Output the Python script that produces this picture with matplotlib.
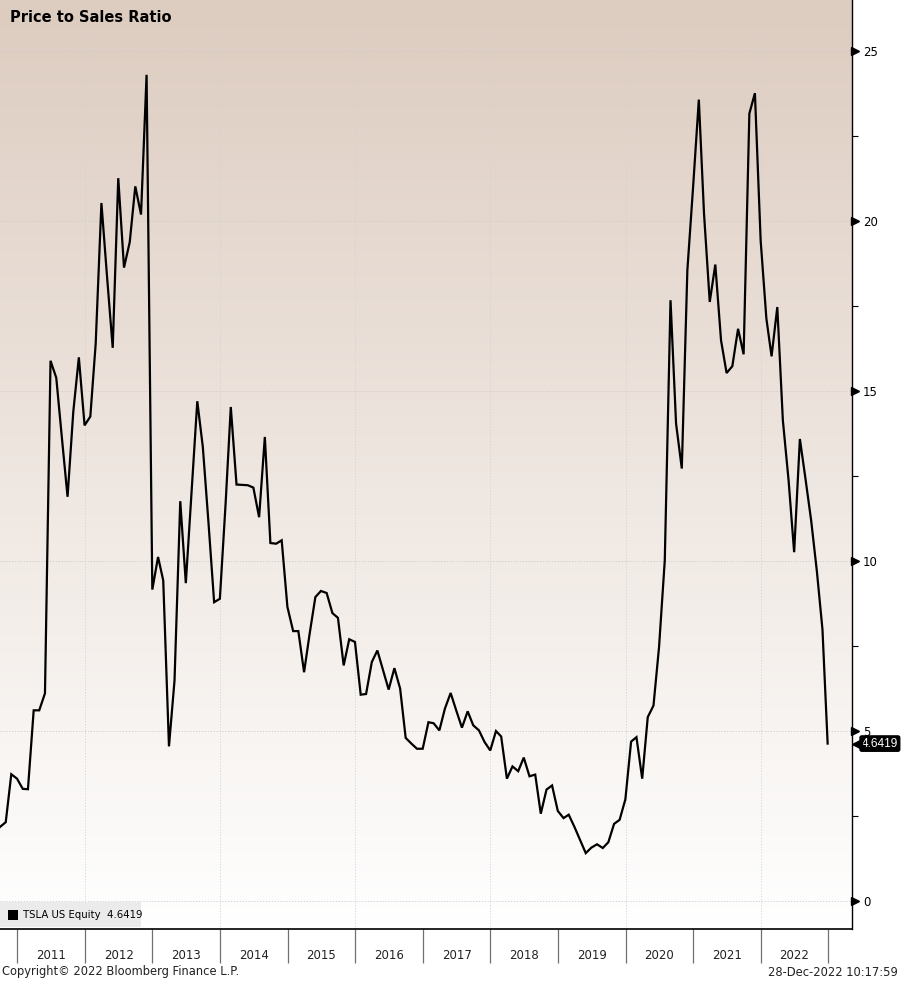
import numpy as np
import pandas as pd
import matplotlib
matplotlib.use('Agg')
import matplotlib.pyplot as plt
import matplotlib.dates as mdates
from matplotlib.ticker import FixedLocator, NullFormatter

# Monthly price/sales ratio, Sep 2010 .. Nov 2022 month ends, plus last print 28-Dec-2022
ps_ratio = [
    2.19, 2.33, 3.74, 3.61, 3.31, 3.30, 5.62, 5.62, 6.12, 15.9,
    15.4, 13.6, 11.9, 14.4, 16.0, 14.0, 14.26, 16.4, 20.54, 18.4,
    16.28, 21.27, 18.64, 19.39, 21.03, 20.2, 24.31, 9.17, 10.13, 9.44,
    4.56, 6.5, 11.77, 9.36, 12.05, 14.71, 13.36, 11.1, 8.8, 8.9,
    11.7, 14.54, 12.26, 12.25, 12.24, 12.17, 11.3, 13.66, 10.54, 10.52,
    10.62, 8.66, 7.95, 7.95, 6.74, 7.87, 8.95, 9.13, 9.07, 8.48,
    8.34, 6.94, 7.71, 7.63, 6.08, 6.10, 7.04, 7.38, 6.79, 6.23,
    6.86, 6.26, 4.81, 4.64, 4.49, 4.49, 5.27, 5.24, 5.03, 5.67,
    6.13, 5.62, 5.11, 5.59, 5.18, 5.03, 4.69, 4.44, 5.01, 4.85,
    3.61, 3.97, 3.83, 4.23, 3.68, 3.73, 2.58, 3.29, 3.41, 2.66,
    2.45, 2.55, 2.19, 1.81, 1.42, 1.58, 1.68, 1.57, 1.74, 2.28,
    2.40, 3.00, 4.70, 4.83, 3.61, 5.42, 5.76, 7.48, 10.03, 17.68,
    14.05, 12.73, 18.56, 21.01, 23.58, 20.23, 17.63, 18.73, 16.50, 15.54,
    15.74, 16.84, 16.09, 23.17, 23.77, 19.44, 17.14, 16.03, 17.48, 14.15,
    12.38, 10.27, 13.6, 12.4, 11.2, 9.7, 8.0, 4.6419,
]
month_ends = pd.date_range('2010-09-01', periods=147, freq='MS') + pd.offsets.MonthEnd(0)
dates = list(month_ends) + [pd.Timestamp('2022-12-28')]

years = list(range(2011, 2023))
y_major = [0, 5, 10, 15, 20, 25]
y_minor = [2.5, 7.5, 12.5, 17.5, 22.5]
ticker_name = 'TSLA US Equity'
last_value = '4.6419'

W, H = 901, 981
fig = plt.figure(figsize=(W / 100, H / 100), dpi=100)
fig.patch.set_facecolor('white')
rect = [0, (H - 929.3) / H, 851.7 / W, 929.3 / H]

# background gradient (tan at top to white at bottom)
bg = fig.add_axes(rect, zorder=0)
top = np.array([221, 204, 192]) / 255.0
bot = np.array([255, 255, 255]) / 255.0
t = np.linspace(0, 1, 256)[:, None]
grad = (top * (1 - t) + bot * t)[:, None, :]
bg.imshow(grad, aspect='auto', extent=[0, 1, 0, 1], origin='upper')
bg.set_axis_off()

ax = fig.add_axes(rect, zorder=1)
ax.set_facecolor('none')

x0 = mdates.date2num(pd.Timestamp('2010-09-30'))
x1 = mdates.date2num(pd.Timestamp('2023-05-07'))
ax.set_xlim(x0, x1)
ax.set_ylim(-0.82, 26.51)

# grid
for v in y_major:
    ax.axhline(v, color='#cacaca', lw=0.6, ls=(0, (1.5, 2)), zorder=1)
for yr in range(2012, 2023, 2):
    ax.axvline(mdates.date2num(pd.Timestamp(f'{yr}-01-01')), color='#d2d2d2',
               lw=0.6, ls=(0, (1.5, 2)), zorder=1)

ax.plot(mdates.date2num(dates), ps_ratio, color='black', lw=1.6, zorder=3,
        solid_joinstyle='miter')

# spines
for s in ['top', 'left']:
    ax.spines[s].set_visible(False)
ax.spines['right'].set_color('black')
ax.spines['bottom'].set_color('black')
ax.spines['right'].set_linewidth(1.0)
ax.spines['bottom'].set_linewidth(1.2)

# y axis on the right
ax.yaxis.tick_right()
ax.set_yticks(y_major)
ax.set_yticklabels([str(v) for v in y_major])
ax.yaxis.set_minor_locator(FixedLocator(y_minor))
ax.tick_params(axis='y', which='major', length=0, pad=8, labelsize=8.5, colors='black')
ax.tick_params(axis='y', which='minor', length=4, width=0.8, direction='out', color='black')
ax.plot([1.0 + 3 / 851.7] * len(y_major), y_major, marker='>', ms=6, color='black', ls='none',
        transform=ax.get_yaxis_transform(), clip_on=False, zorder=5)

# x axis: year boundaries as long ticks, year labels centered between
bounds = [mdates.date2num(pd.Timestamp(f'{y}-01-01')) for y in years + [2023]]
mids = [mdates.date2num(pd.Timestamp(f'{y}-07-02')) for y in years]
ax.xaxis.set_major_locator(FixedLocator(bounds))
ax.xaxis.set_major_formatter(NullFormatter())
ax.xaxis.set_minor_locator(FixedLocator(mids))
ax.set_xticklabels([str(y) for y in years], minor=True)
ax.tick_params(axis='x', which='major', length=24.5, width=0.9, color='#707070', direction='out')
ax.tick_params(axis='x', which='minor', length=0, pad=14, labelsize=8.5, colors='#222222')

# last value tag
ax.text(1.0 + 10 / 851.7, 4.6419, last_value, transform=ax.get_yaxis_transform(),
        ha='left', va='center', fontsize=8.6, family='Liberation Sans', color='white',
        clip_on=False, zorder=6,
        bbox=dict(boxstyle='round,pad=0.14,rounding_size=0.15', fc='black', ec='black'))
ax.plot([1.0 + 5 / 851.7], [4.6419], marker='<', ms=7.5, color='black',
        transform=ax.get_yaxis_transform(), clip_on=False, zorder=6)

# legend box
ax.add_patch(plt.Rectangle((0, 2.3 / 929.3), 141 / 851.7, 25 / 929.3, transform=ax.transAxes,
                           fc='#ebebeb', ec='none', zorder=4))
ax.add_patch(plt.Rectangle((8 / 851.7, 9 / 929.3), 10 / 851.7, 10 / 929.3,
                           transform=ax.transAxes, fc='black', ec='none', zorder=5))
ax.text(23 / 851.7, 14.5 / 929.3, f'{ticker_name}  {last_value}', transform=ax.transAxes,
        ha='left', va='center', fontsize=7.3, color='black', zorder=5)

# title and footer
fig.text(10 / W, 1 - 18 / H, 'Price to Sales Ratio', ha='left', va='center',
         fontsize=10.5, fontweight='bold', color='black')
fig.text(2 / W, 1 - 972 / H, 'Copyright\u00a9 2022 Bloomberg Finance L.P.', ha='left',
         va='center', fontsize=8.3, color='#222222')
fig.text(898 / W, 1 - 972 / H, '28-Dec-2022 10:17:59', ha='right', va='center',
         fontsize=8.3, color='#222222')

fig.savefig('out.png', dpi=100)
